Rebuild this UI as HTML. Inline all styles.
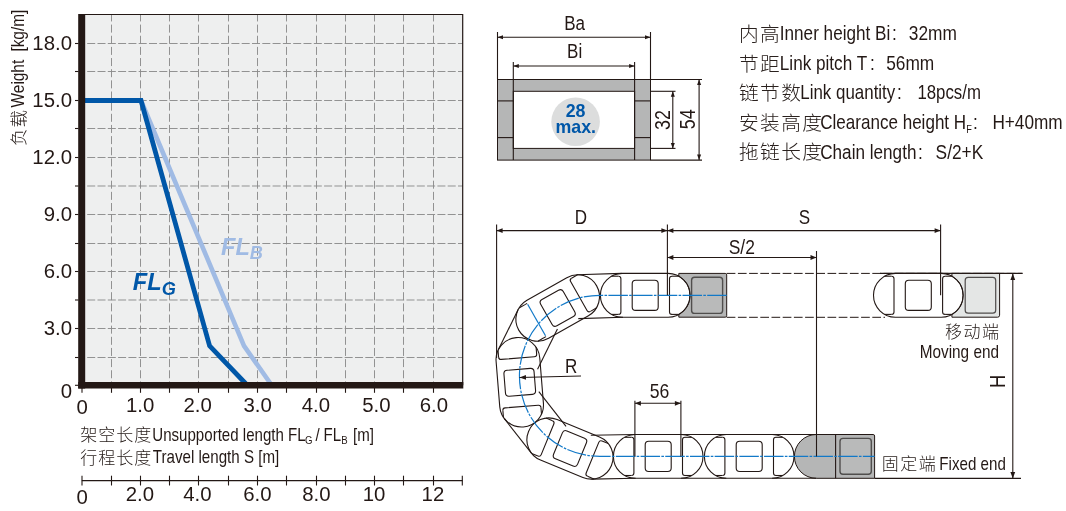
<!DOCTYPE html><html><head><meta charset="utf-8"><title>chart</title><style>html,body{margin:0;padding:0;background:#fff}svg{display:block;will-change:transform}</style></head><body><svg width="1066" height="511" viewBox="0 0 1066 511">
<rect width="1066" height="511" fill="#fff"/>
<rect x="81.8" y="14.5" width="380.9" height="370.7" fill="#eeefef"/>
<path d="M111.5,14.5V385.2M140.5,14.5V385.2M169.5,14.5V385.2M198.5,14.5V385.2M228.5,14.5V385.2M257.5,14.5V385.2M286.5,14.5V385.2M316.5,14.5V385.2M345.5,14.5V385.2M374.5,14.5V385.2M403.5,14.5V385.2M433.5,14.5V385.2" stroke="#8c8c8c" stroke-width="0.95" stroke-dasharray="8 3.15" stroke-dashoffset="1.05" fill="none"/>
<path d="M81.8,357.5H462.7M81.8,328.5H462.7M81.8,300H462.7M81.8,271.5H462.7M81.8,243.5H462.7M81.8,214.5H462.7M81.8,186H462.7M81.8,157.5H462.7M81.8,128.5H462.7M81.8,100.5H462.7M81.8,71.5H462.7M81.8,43.5H462.7" stroke="#8c8c8c" stroke-width="0.95" stroke-dasharray="8 2.3" stroke-dashoffset="4.9" fill="none"/>
<path d="M81.8,14.5H462.7V385.2" stroke="#231815" stroke-width="1.2" fill="none"/>
<polyline points="141.0,100.5 244,345.8 271.5,385" fill="none" stroke="#a0bbe4" stroke-width="4.6" stroke-linejoin="miter"/>
<polyline points="81.8,100.5 141.0,100.5 209.6,345.8 247,385" fill="none" stroke="#0057a8" stroke-width="4.8" stroke-linejoin="miter"/>
<rect x="78.2" y="14.0" width="7" height="374.5" fill="#231815"/>
<rect x="78.2" y="382" width="385.1" height="6.5" fill="#231815"/>
<line x1="82.00" y1="388.00" x2="82.00" y2="392.80" stroke="#231815" stroke-width="1.1" />
<line x1="111.50" y1="388.00" x2="111.50" y2="392.80" stroke="#231815" stroke-width="1.1" />
<line x1="140.50" y1="388.00" x2="140.50" y2="392.80" stroke="#231815" stroke-width="1.1" />
<line x1="169.50" y1="388.00" x2="169.50" y2="392.80" stroke="#231815" stroke-width="1.1" />
<line x1="198.50" y1="388.00" x2="198.50" y2="392.80" stroke="#231815" stroke-width="1.1" />
<line x1="228.50" y1="388.00" x2="228.50" y2="392.80" stroke="#231815" stroke-width="1.1" />
<line x1="257.50" y1="388.00" x2="257.50" y2="392.80" stroke="#231815" stroke-width="1.1" />
<line x1="286.50" y1="388.00" x2="286.50" y2="392.80" stroke="#231815" stroke-width="1.1" />
<line x1="316.50" y1="388.00" x2="316.50" y2="392.80" stroke="#231815" stroke-width="1.1" />
<line x1="345.50" y1="388.00" x2="345.50" y2="392.80" stroke="#231815" stroke-width="1.1" />
<line x1="374.50" y1="388.00" x2="374.50" y2="392.80" stroke="#231815" stroke-width="1.1" />
<line x1="403.50" y1="388.00" x2="403.50" y2="392.80" stroke="#231815" stroke-width="1.1" />
<line x1="433.50" y1="388.00" x2="433.50" y2="392.80" stroke="#231815" stroke-width="1.1" />
<line x1="75.00" y1="357.50" x2="78.50" y2="357.50" stroke="#231815" stroke-width="1.1" />
<line x1="75.00" y1="328.50" x2="78.50" y2="328.50" stroke="#231815" stroke-width="1.1" />
<line x1="75.00" y1="300.00" x2="78.50" y2="300.00" stroke="#231815" stroke-width="1.1" />
<line x1="75.00" y1="271.50" x2="78.50" y2="271.50" stroke="#231815" stroke-width="1.1" />
<line x1="75.00" y1="243.50" x2="78.50" y2="243.50" stroke="#231815" stroke-width="1.1" />
<line x1="75.00" y1="214.50" x2="78.50" y2="214.50" stroke="#231815" stroke-width="1.1" />
<line x1="75.00" y1="186.00" x2="78.50" y2="186.00" stroke="#231815" stroke-width="1.1" />
<line x1="75.00" y1="157.50" x2="78.50" y2="157.50" stroke="#231815" stroke-width="1.1" />
<line x1="75.00" y1="128.50" x2="78.50" y2="128.50" stroke="#231815" stroke-width="1.1" />
<line x1="75.00" y1="100.50" x2="78.50" y2="100.50" stroke="#231815" stroke-width="1.1" />
<line x1="75.00" y1="71.50" x2="78.50" y2="71.50" stroke="#231815" stroke-width="1.1" />
<line x1="75.00" y1="43.50" x2="78.50" y2="43.50" stroke="#231815" stroke-width="1.1" />
<line x1="75.00" y1="385.30" x2="78.50" y2="385.30" stroke="#231815" stroke-width="1.1" />
<text transform="translate(72.00,50.20) scale(0.99,1)" font-size="20.6" text-anchor="end" fill="#231815" font-family="Liberation Sans, sans-serif" >18.0</text>
<text transform="translate(72.00,107.20) scale(0.99,1)" font-size="20.6" text-anchor="end" fill="#231815" font-family="Liberation Sans, sans-serif" >15.0</text>
<text transform="translate(72.00,164.20) scale(0.99,1)" font-size="20.6" text-anchor="end" fill="#231815" font-family="Liberation Sans, sans-serif" >12.0</text>
<text transform="translate(72.00,221.20) scale(0.99,1)" font-size="20.6" text-anchor="end" fill="#231815" font-family="Liberation Sans, sans-serif" >9.0</text>
<text transform="translate(72.00,278.20) scale(0.99,1)" font-size="20.6" text-anchor="end" fill="#231815" font-family="Liberation Sans, sans-serif" >6.0</text>
<text transform="translate(72.00,335.20) scale(0.99,1)" font-size="20.6" text-anchor="end" fill="#231815" font-family="Liberation Sans, sans-serif" >3.0</text>
<text transform="translate(72.00,397.60) scale(0.99,1)" font-size="20.6" text-anchor="end" fill="#231815" font-family="Liberation Sans, sans-serif" >0</text>
<text transform="translate(140.20,412.30) scale(0.99,1)" font-size="20.6" text-anchor="middle" fill="#231815" font-family="Liberation Sans, sans-serif" >1.0</text>
<text transform="translate(197.60,412.30) scale(0.99,1)" font-size="20.6" text-anchor="middle" fill="#231815" font-family="Liberation Sans, sans-serif" >2.0</text>
<text transform="translate(257.60,412.30) scale(0.99,1)" font-size="20.6" text-anchor="middle" fill="#231815" font-family="Liberation Sans, sans-serif" >3.0</text>
<text transform="translate(315.80,412.30) scale(0.99,1)" font-size="20.6" text-anchor="middle" fill="#231815" font-family="Liberation Sans, sans-serif" >4.0</text>
<text transform="translate(376.30,412.30) scale(0.99,1)" font-size="20.6" text-anchor="middle" fill="#231815" font-family="Liberation Sans, sans-serif" >5.0</text>
<text transform="translate(433.80,412.30) scale(0.99,1)" font-size="20.6" text-anchor="middle" fill="#231815" font-family="Liberation Sans, sans-serif" >6.0</text>
<text transform="translate(82.20,414.00) scale(0.99,1)" font-size="20.6" text-anchor="middle" fill="#231815" font-family="Liberation Sans, sans-serif" >0</text>
<text transform="translate(132.8,290.4) scale(1,1)" font-size="23.6" font-weight="bold" font-style="italic" fill="#0057a8" font-family="Liberation Sans, sans-serif">FL<tspan font-size="18.2" dy="5">G</tspan></text>
<text transform="translate(221,254.7) scale(1,1)" font-size="23.6" font-weight="bold" font-style="italic" fill="#a0bbe4" font-family="Liberation Sans, sans-serif">FL<tspan font-size="18.2" dy="4">B</tspan></text>
<text transform="translate(24.8,146) rotate(-90)" font-size="17.5" letter-spacing="1" fill="#2a211e" font-family="Liberation Sans, Noto Sans CJK SC, sans-serif" font-weight="300">负载</text>
<text transform="translate(23.50,107.40) rotate(-90) scale(0.875,1)" font-size="17.6" text-anchor="start" fill="#231815" font-family="Liberation Sans, sans-serif" >Weight</text>
<text transform="translate(23.50,51.60) rotate(-90) scale(0.875,1)" font-size="17.6" text-anchor="start" fill="#231815" font-family="Liberation Sans, sans-serif" >[kg/m]</text>
<text x="80.30" y="441.30" font-size="17" letter-spacing="1.0" fill="#2a211e" font-family="Liberation Sans, Noto Sans CJK SC, sans-serif" font-weight="300">架空长度</text>
<text transform="translate(152.30,440.90) scale(0.838,1)" font-size="18" text-anchor="start" fill="#231815" font-family="Liberation Sans, sans-serif" >Unsupported length FL</text>
<text transform="translate(305.00,443.60) scale(0.838,1)" font-size="11.5" text-anchor="start" fill="#231815" font-family="Liberation Sans, sans-serif" >G</text>
<text transform="translate(315.60,440.90) scale(0.838,1)" font-size="18" text-anchor="start" fill="#231815" font-family="Liberation Sans, sans-serif" >/</text>
<text transform="translate(323.60,440.90) scale(0.838,1)" font-size="18" text-anchor="start" fill="#231815" font-family="Liberation Sans, sans-serif" >FL</text>
<text transform="translate(341.30,443.60) scale(0.838,1)" font-size="11.5" text-anchor="start" fill="#231815" font-family="Liberation Sans, sans-serif" >B</text>
<text transform="translate(353.00,440.90) scale(0.838,1)" font-size="18" text-anchor="start" fill="#231815" font-family="Liberation Sans, sans-serif" >[m]</text>
<text x="80.30" y="464.10" font-size="17" letter-spacing="1.0" fill="#2a211e" font-family="Liberation Sans, Noto Sans CJK SC, sans-serif" font-weight="300">行程长度</text>
<text transform="translate(152.80,463.40) scale(0.841,1)" font-size="18" text-anchor="start" fill="#231815" font-family="Liberation Sans, sans-serif" >Travel length S [m]</text>
<line x1="81.80" y1="480.60" x2="462.70" y2="480.60" stroke="#231815" stroke-width="1.1" />
<line x1="82.00" y1="475.70" x2="82.00" y2="485.50" stroke="#231815" stroke-width="1.1" />
<line x1="111.50" y1="475.70" x2="111.50" y2="485.50" stroke="#231815" stroke-width="1.1" />
<line x1="140.50" y1="475.70" x2="140.50" y2="485.50" stroke="#231815" stroke-width="1.1" />
<line x1="169.50" y1="475.70" x2="169.50" y2="485.50" stroke="#231815" stroke-width="1.1" />
<line x1="198.50" y1="475.70" x2="198.50" y2="485.50" stroke="#231815" stroke-width="1.1" />
<line x1="228.50" y1="475.70" x2="228.50" y2="485.50" stroke="#231815" stroke-width="1.1" />
<line x1="257.50" y1="475.70" x2="257.50" y2="485.50" stroke="#231815" stroke-width="1.1" />
<line x1="286.50" y1="475.70" x2="286.50" y2="485.50" stroke="#231815" stroke-width="1.1" />
<line x1="316.50" y1="475.70" x2="316.50" y2="485.50" stroke="#231815" stroke-width="1.1" />
<line x1="345.50" y1="475.70" x2="345.50" y2="485.50" stroke="#231815" stroke-width="1.1" />
<line x1="374.50" y1="475.70" x2="374.50" y2="485.50" stroke="#231815" stroke-width="1.1" />
<line x1="403.50" y1="475.70" x2="403.50" y2="485.50" stroke="#231815" stroke-width="1.1" />
<line x1="433.50" y1="475.70" x2="433.50" y2="485.50" stroke="#231815" stroke-width="1.1" />
<line x1="462.30" y1="475.70" x2="462.30" y2="485.50" stroke="#231815" stroke-width="1.1" />
<text transform="translate(82.20,503.70) scale(0.99,1)" font-size="20.6" text-anchor="middle" fill="#231815" font-family="Liberation Sans, sans-serif" >0</text>
<text transform="translate(139.90,501.10) scale(0.99,1)" font-size="20.6" text-anchor="middle" fill="#231815" font-family="Liberation Sans, sans-serif" >2.0</text>
<text transform="translate(197.40,501.10) scale(0.99,1)" font-size="20.6" text-anchor="middle" fill="#231815" font-family="Liberation Sans, sans-serif" >4.0</text>
<text transform="translate(257.40,501.10) scale(0.99,1)" font-size="20.6" text-anchor="middle" fill="#231815" font-family="Liberation Sans, sans-serif" >6.0</text>
<text transform="translate(316.40,501.10) scale(0.99,1)" font-size="20.6" text-anchor="middle" fill="#231815" font-family="Liberation Sans, sans-serif" >8.0</text>
<text transform="translate(374.10,501.10) scale(0.99,1)" font-size="20.6" text-anchor="middle" fill="#231815" font-family="Liberation Sans, sans-serif" >10</text>
<text transform="translate(432.90,501.10) scale(0.99,1)" font-size="20.6" text-anchor="middle" fill="#231815" font-family="Liberation Sans, sans-serif" >12</text>
<rect x="497.5" y="79.5" width="153.0" height="80.6" fill="#b5b6b6" stroke="#231815" stroke-width="1"/>
<rect x="513.3" y="91.3" width="121.30000000000007" height="57.10000000000001" fill="#fff" stroke="#231815" stroke-width="1"/>
<line x1="513.30" y1="79.50" x2="513.30" y2="160.10" stroke="#231815" stroke-width="1.1" />
<line x1="634.60" y1="79.50" x2="634.60" y2="160.10" stroke="#231815" stroke-width="1.1" />
<line x1="497.50" y1="100.90" x2="513.30" y2="100.90" stroke="#231815" stroke-width="1.1" />
<line x1="634.60" y1="100.90" x2="650.50" y2="100.90" stroke="#231815" stroke-width="1.1" />
<line x1="497.50" y1="137.60" x2="513.30" y2="137.60" stroke="#231815" stroke-width="1.1" />
<line x1="634.60" y1="137.60" x2="650.50" y2="137.60" stroke="#231815" stroke-width="1.1" />
<circle cx="575.6" cy="121.7" r="24.3" fill="#dcdddd"/>
<text x="575.6" y="116.8" font-size="17.8" font-weight="bold" text-anchor="middle" fill="#0057a8" font-family="Liberation Sans, sans-serif">28</text>
<text x="575.8" y="132.5" font-size="17.8" font-weight="bold" text-anchor="middle" fill="#0057a8" font-family="Liberation Sans, sans-serif">max.</text>
<line x1="497.50" y1="32.00" x2="497.50" y2="79.50" stroke="#231815" stroke-width="1.1" />
<line x1="650.50" y1="32.00" x2="650.50" y2="79.50" stroke="#231815" stroke-width="1.1" />
<line x1="497.50" y1="37.30" x2="650.50" y2="37.30" stroke="#231815" stroke-width="1.1" />
<polygon points="497.50,37.30 503.00,35.30 503.00,39.30" fill="#231815"/>
<polygon points="650.50,37.30 645.00,39.30 645.00,35.30" fill="#231815"/>
<text transform="translate(574.60,30.40) scale(0.844,1)" font-size="20.2" text-anchor="middle" fill="#231815" font-family="Liberation Sans, sans-serif" >Ba</text>
<line x1="513.30" y1="62.00" x2="513.30" y2="79.50" stroke="#231815" stroke-width="1.1" />
<line x1="634.60" y1="62.00" x2="634.60" y2="79.50" stroke="#231815" stroke-width="1.1" />
<line x1="513.30" y1="66.00" x2="634.60" y2="66.00" stroke="#231815" stroke-width="1.1" />
<polygon points="513.30,66.00 518.80,64.00 518.80,68.00" fill="#231815"/>
<polygon points="634.60,66.00 629.10,68.00 629.10,64.00" fill="#231815"/>
<text transform="translate(574.60,57.70) scale(0.844,1)" font-size="20.2" text-anchor="middle" fill="#231815" font-family="Liberation Sans, sans-serif" >Bi</text>
<line x1="650.50" y1="91.30" x2="675.50" y2="91.30" stroke="#231815" stroke-width="1.1" />
<line x1="650.50" y1="148.40" x2="675.50" y2="148.40" stroke="#231815" stroke-width="1.1" />
<line x1="672.80" y1="91.30" x2="672.80" y2="148.40" stroke="#231815" stroke-width="1.1" />
<polygon points="672.80,91.30 674.80,96.80 670.80,96.80" fill="#231815"/>
<polygon points="672.80,148.40 670.80,142.90 674.80,142.90" fill="#231815"/>
<text transform="translate(669.60,120.00) rotate(-90) scale(0.82,1)" font-size="21.8" text-anchor="middle" fill="#231815" font-family="Liberation Sans, sans-serif" >32</text>
<line x1="650.50" y1="79.50" x2="702.00" y2="79.50" stroke="#231815" stroke-width="1.1" />
<line x1="650.50" y1="160.10" x2="702.00" y2="160.10" stroke="#231815" stroke-width="1.1" />
<line x1="699.10" y1="79.50" x2="699.10" y2="160.10" stroke="#231815" stroke-width="1.1" />
<polygon points="699.10,79.50 701.10,85.00 697.10,85.00" fill="#231815"/>
<polygon points="699.10,160.10 697.10,154.60 701.10,154.60" fill="#231815"/>
<text transform="translate(694.80,119.30) rotate(-90) scale(0.82,1)" font-size="21.8" text-anchor="middle" fill="#231815" font-family="Liberation Sans, sans-serif" >54</text>
<text x="739.00" y="41.00" font-size="19.7" letter-spacing="1.4" fill="#2a211e" font-family="Liberation Sans, Noto Sans CJK SC, sans-serif" font-weight="300">内高</text>
<text transform="translate(779.80,40.40) scale(0.84099,1)" font-size="20.4" text-anchor="start" fill="#231815" font-family="Liberation Sans, sans-serif" >Inner height Bi</text>
<text transform="translate(892.00,40.40) scale(0.85,1)" font-size="20.4" text-anchor="start" fill="#231815" font-family="Liberation Sans, sans-serif" >:</text>
<text transform="translate(908.80,40.40) scale(0.84875,1)" font-size="20.4" text-anchor="start" fill="#231815" font-family="Liberation Sans, sans-serif" >32mm</text>
<text x="739.00" y="70.50" font-size="19.7" letter-spacing="1.4" fill="#2a211e" font-family="Liberation Sans, Noto Sans CJK SC, sans-serif" font-weight="300">节距</text>
<text transform="translate(779.80,69.90) scale(0.84099,1)" font-size="20.4" text-anchor="start" fill="#231815" font-family="Liberation Sans, sans-serif" >Link pitch T</text>
<text transform="translate(870.00,69.90) scale(0.85,1)" font-size="20.4" text-anchor="start" fill="#231815" font-family="Liberation Sans, sans-serif" >:</text>
<text transform="translate(886.20,69.90) scale(0.84875,1)" font-size="20.4" text-anchor="start" fill="#231815" font-family="Liberation Sans, sans-serif" >56mm</text>
<text x="739.00" y="99.70" font-size="19.7" letter-spacing="1.4" fill="#2a211e" font-family="Liberation Sans, Noto Sans CJK SC, sans-serif" font-weight="300">链节数</text>
<text transform="translate(800.30,99.10) scale(0.8293499999999999,1)" font-size="20.4" text-anchor="start" fill="#231815" font-family="Liberation Sans, sans-serif" >Link quantity</text>
<text transform="translate(897.00,99.10) scale(0.85,1)" font-size="20.4" text-anchor="start" fill="#231815" font-family="Liberation Sans, sans-serif" >:</text>
<text transform="translate(917.40,99.10) scale(0.8245,1)" font-size="20.4" text-anchor="start" fill="#231815" font-family="Liberation Sans, sans-serif" >18pcs/m</text>
<text x="739.00" y="129.80" font-size="19.7" letter-spacing="1.4" fill="#2a211e" font-family="Liberation Sans, Noto Sans CJK SC, sans-serif" font-weight="300">安装高度</text>
<text transform="translate(820.1999999999999,129.2) scale(0.836,1)" font-size="20.4" fill="#231815" font-family="Liberation Sans, sans-serif">Clearance height H<tspan font-size="11" dy="3.5">F</tspan></text>
<text transform="translate(973.00,129.20) scale(0.85,1)" font-size="20.4" text-anchor="start" fill="#231815" font-family="Liberation Sans, sans-serif" >:</text>
<text transform="translate(992.40,129.20) scale(0.8439,1)" font-size="20.4" text-anchor="start" fill="#231815" font-family="Liberation Sans, sans-serif" >H+40mm</text>
<text x="739.00" y="159.20" font-size="19.7" letter-spacing="1.4" fill="#2a211e" font-family="Liberation Sans, Noto Sans CJK SC, sans-serif" font-weight="300">拖链长度</text>
<text transform="translate(820.20,158.60) scale(0.84099,1)" font-size="20.4" text-anchor="start" fill="#231815" font-family="Liberation Sans, sans-serif" >Chain length</text>
<text transform="translate(918.00,158.60) scale(0.85,1)" font-size="20.4" text-anchor="start" fill="#231815" font-family="Liberation Sans, sans-serif" >:</text>
<text transform="translate(935.60,158.60) scale(0.84875,1)" font-size="20.4" text-anchor="start" fill="#231815" font-family="Liberation Sans, sans-serif" >S/2+K</text>
<path d="M726.7,273.4H1022.5M726.7,317.3H885" stroke="#231815" stroke-width="1" stroke-dasharray="8.7 2.5" fill="none"/>
<path d="M678.81,273.40000000000003H725.2Q726.7,273.40000000000003 726.7,274.90000000000003V315.7Q726.7,317.2 725.2,317.2H678.81V314.40000000000003A21.9,21.9 0 0 0 678.81,276.2Z" fill="#b5b6b6" stroke="#231815" stroke-width="1"/>
<rect x="691.6" y="277.2" width="31" height="36.2" rx="3" fill="#b9baba" stroke="#504e4d" stroke-width="1.4"/>
<path d="M816.3,434.5H873.1Q874.6,434.5 874.6,436.0V478.29999999999995H816.3A21.9,21.9 0 0 1 816.3,434.5Z" fill="#b5b6b6" stroke="#231815" stroke-width="1"/>
<line x1="835.60" y1="434.50" x2="835.60" y2="478.30" stroke="#231815" stroke-width="1.1" />
<rect x="840" y="438.4" width="31.3" height="35.8" rx="3" fill="#b9baba" stroke="#504e4d" stroke-width="1.4"/>
<path d="M951.91,273.40000000000003H999.6V315.2Q999.6,317.2 997.6,317.2H951.91V314.40000000000003A21.9,21.9 0 0 0 951.91,276.2Z" fill="#e4e6e5" stroke="#231815" stroke-width="1"/>
<rect x="965.2" y="277.4" width="30.5" height="35.8" rx="3" fill="#e4e6e5" stroke="#4f4c4b" stroke-width="1.2"/>
<line x1="880.00" y1="273.40" x2="1022.50" y2="273.40" stroke="#231815" stroke-width="1.1" />
<g transform="translate(645.20,295.30) rotate(0)" fill="none" stroke="#231815" stroke-width="1.1">
<path d="M-22.9,-21.9H22.9A21.9,21.9 0 0 1 22.9,21.9H-22.9A21.9,21.9 0 0 1 -22.9,-21.9Z"/>
<rect x="-13" y="-15.1" width="26" height="30.2" rx="3.5"/>
<path d="M33.61,-19.1H26.80" />
<path d="M33.61,19.1H26.80" />
<path d="M26.80,-19.1Q24.3,-19.1 24.3,-16.6V16.6Q24.3,19.1 26.80,19.1"/>
<path d="M-33.61,-19.1H-26.80" />
<path d="M-33.61,19.1H-26.80" />
<path d="M-26.80,-19.1Q-24.3,-19.1 -24.3,-16.6V16.6Q-24.3,19.1 -26.80,19.1"/>
</g>
<g transform="translate(557.70,308.00) rotate(-29.6)" fill="none" stroke="#231815" stroke-width="1.1">
<path d="M-22.9,-21.9H22.9A21.9,21.9 0 0 1 22.9,21.9H-22.9A21.9,21.9 0 0 1 -22.9,-21.9Z"/>
<rect x="-13" y="-15.1" width="26" height="30.2" rx="3.5"/>
<path d="M33.61,-19.1H26.80" />
<path d="M33.61,19.1H26.80" />
<path d="M26.80,-19.1Q24.3,-19.1 24.3,-16.6V16.6Q24.3,19.1 26.80,19.1"/>
<path d="M-33.61,-19.1H-26.80" />
<path d="M-33.61,19.1H-26.80" />
<path d="M-26.80,-19.1H-24.3M-26.80,19.1H-24.3"/>
<path d="M-24.3,-18.1V18.1" stroke="#1279c8" stroke-width="1.2"/>
</g>
<g transform="translate(519.76,382.31) rotate(85.4)" fill="none" stroke="#231815" stroke-width="1.1">
<path d="M-22.9,-21.9H22.9A21.9,21.9 0 0 1 22.9,21.9H-22.9A21.9,21.9 0 0 1 -22.9,-21.9Z"/>
<rect x="-13" y="-15.1" width="26" height="30.2" rx="3.5"/>
<path d="M33.61,-19.1H26.80" />
<path d="M33.61,19.1H26.80" />
<path d="M26.80,-19.1Q24.3,-19.1 24.3,-16.6V16.6Q24.3,19.1 26.80,19.1"/>
<path d="M-33.61,-19.1H-26.80" />
<path d="M-33.61,19.1H-26.80" />
<path d="M-26.80,-19.1Q-24.3,-19.1 -24.3,-16.6V16.6Q-24.3,19.1 -26.80,19.1"/>
</g>
<g transform="translate(570.00,448.50) rotate(22.3)" fill="none" stroke="#231815" stroke-width="1.1">
<path d="M-22.9,-21.9H22.9A21.9,21.9 0 0 1 22.9,21.9H-22.9A21.9,21.9 0 0 1 -22.9,-21.9Z"/>
<rect x="-13" y="-15.1" width="26" height="30.2" rx="3.5"/>
<path d="M33.61,-19.1H26.80" />
<path d="M33.61,19.1H26.80" />
<path d="M26.80,-19.1Q24.3,-19.1 24.3,-16.6V16.6Q24.3,19.1 26.80,19.1"/>
<path d="M-33.61,-19.1H-26.80" />
<path d="M-33.61,19.1H-26.80" />
<path d="M-26.80,-19.1Q-24.3,-19.1 -24.3,-16.6V16.6Q-24.3,19.1 -26.80,19.1"/>
</g>
<g transform="translate(658.20,456.40) rotate(0)" fill="none" stroke="#231815" stroke-width="1.1">
<path d="M-22.9,-21.9H22.9A21.9,21.9 0 0 1 22.9,21.9H-22.9A21.9,21.9 0 0 1 -22.9,-21.9Z"/>
<rect x="-13" y="-15.1" width="26" height="30.2" rx="3.5"/>
<path d="M33.61,-19.1H26.80" />
<path d="M33.61,19.1H26.80" />
<path d="M26.80,-19.1Q24.3,-19.1 24.3,-16.6V16.6Q24.3,19.1 26.80,19.1"/>
<path d="M-33.61,-19.1H-26.80" />
<path d="M-33.61,19.1H-26.80" />
<path d="M-26.80,-19.1Q-24.3,-19.1 -24.3,-16.6V16.6Q-24.3,19.1 -26.80,19.1"/>
</g>
<g transform="translate(749.20,456.40) rotate(0)" fill="none" stroke="#231815" stroke-width="1.1">
<path d="M-22.9,-21.9H22.9A21.9,21.9 0 0 1 22.9,21.9H-22.9A21.9,21.9 0 0 1 -22.9,-21.9Z"/>
<rect x="-13" y="-15.1" width="26" height="30.2" rx="3.5"/>
<path d="M33.61,-19.1H26.80" />
<path d="M33.61,19.1H26.80" />
<path d="M26.80,-19.1Q24.3,-19.1 24.3,-16.6V16.6Q24.3,19.1 26.80,19.1"/>
<path d="M-33.61,-19.1H-26.80" />
<path d="M-33.61,19.1H-26.80" />
<path d="M-26.80,-19.1Q-24.3,-19.1 -24.3,-16.6V16.6Q-24.3,19.1 -26.80,19.1"/>
</g>
<g transform="translate(918.30,295.30) rotate(0)" fill="none" stroke="#231815" stroke-width="1.1">
<path d="M-22.9,-21.9H22.9A21.9,21.9 0 0 1 22.9,21.9H-22.9A21.9,21.9 0 0 1 -22.9,-21.9Z"/>
<rect x="-13" y="-15.1" width="26" height="30.2" rx="3.5"/>
<path d="M33.61,-19.1H26.80" />
<path d="M33.61,19.1H26.80" />
<path d="M26.80,-19.1Q24.3,-19.1 24.3,-16.6V16.6Q24.3,19.1 26.80,19.1"/>
<path d="M-33.61,-19.1H-26.80" />
<path d="M-33.61,19.1H-26.80" />
<path d="M-26.80,-19.1Q-24.3,-19.1 -24.3,-16.6V16.6Q-24.3,19.1 -26.80,19.1"/>
</g>
<line x1="621.62" y1="273.41" x2="576.93" y2="274.80" stroke="#231815" stroke-width="1.1" />
<line x1="622.98" y1="317.19" x2="578.29" y2="318.58" stroke="#231815" stroke-width="1.1" />
<line x1="518.16" y1="309.60" x2="498.29" y2="349.77" stroke="#231815" stroke-width="1.1" />
<line x1="557.42" y1="329.02" x2="537.55" y2="369.19" stroke="#231815" stroke-width="1.1" />
<line x1="504.37" y1="418.65" x2="531.59" y2="453.33" stroke="#231815" stroke-width="1.1" />
<line x1="538.82" y1="391.61" x2="566.04" y2="426.29" stroke="#231815" stroke-width="1.1" />
<line x1="591.58" y1="479.09" x2="635.69" y2="478.30" stroke="#231815" stroke-width="1.1" />
<line x1="590.80" y1="435.29" x2="634.91" y2="434.50" stroke="#231815" stroke-width="1.1" />
<line x1="681.10" y1="478.30" x2="726.30" y2="478.30" stroke="#231815" stroke-width="1.1" />
<line x1="681.10" y1="434.50" x2="726.30" y2="434.50" stroke="#231815" stroke-width="1.1" />
<line x1="772.10" y1="478.30" x2="816.30" y2="478.30" stroke="#231815" stroke-width="1.1" />
<line x1="772.10" y1="434.50" x2="816.30" y2="434.50" stroke="#231815" stroke-width="1.1" />
<path d="M726.7,295.3H600A80.5,80.5 0 0 0 600,456.4H874.6" fill="none" stroke="#1279c8" stroke-width="1.2" stroke-dasharray="19.5 1.3 2.6 1.3"/>
<line x1="496.60" y1="224.50" x2="496.60" y2="358.00" stroke="#231815" stroke-width="1.1" />
<line x1="667.40" y1="224.50" x2="667.40" y2="295.30" stroke="#231815" stroke-width="1.1" />
<line x1="496.60" y1="230.60" x2="940.60" y2="230.60" stroke="#231815" stroke-width="1.1" />
<polygon points="496.60,230.60 502.60,228.20 502.60,233.00" fill="#231815"/>
<polygon points="667.40,230.60 661.40,233.00 661.40,228.20" fill="#231815"/>
<polygon points="667.40,230.60 673.40,228.20 673.40,233.00" fill="#231815"/>
<polygon points="940.60,230.60 934.60,233.00 934.60,228.20" fill="#231815"/>
<line x1="940.60" y1="224.50" x2="940.60" y2="295.30" stroke="#231815" stroke-width="1.1" />
<line x1="667.40" y1="257.50" x2="816.50" y2="257.50" stroke="#231815" stroke-width="1.1" />
<polygon points="667.40,257.50 673.40,255.10 673.40,259.90" fill="#231815"/>
<polygon points="816.50,257.50 810.50,259.90 810.50,255.10" fill="#231815"/>
<line x1="816.50" y1="251.00" x2="816.50" y2="456.40" stroke="#231815" stroke-width="1.1" />
<text transform="translate(581.00,223.60) scale(0.844,1)" font-size="20.2" text-anchor="middle" fill="#231815" font-family="Liberation Sans, sans-serif" >D</text>
<text transform="translate(804.50,223.90) scale(0.844,1)" font-size="20.2" text-anchor="middle" fill="#231815" font-family="Liberation Sans, sans-serif" >S</text>
<text transform="translate(741.80,253.90) scale(0.864,1)" font-size="20.2" text-anchor="middle" fill="#231815" font-family="Liberation Sans, sans-serif" >S/2</text>
<line x1="634.90" y1="400.70" x2="634.90" y2="456.40" stroke="#231815" stroke-width="1.1" />
<line x1="680.90" y1="400.70" x2="680.90" y2="456.40" stroke="#231815" stroke-width="1.1" />
<line x1="634.90" y1="403.30" x2="680.90" y2="403.30" stroke="#231815" stroke-width="1.1" />
<polygon points="634.90,403.30 640.90,400.90 640.90,405.70" fill="#231815"/>
<polygon points="680.90,403.30 674.90,405.70 674.90,400.90" fill="#231815"/>
<text transform="translate(659.50,397.70) scale(0.873,1)" font-size="20.2" text-anchor="middle" fill="#231815" font-family="Liberation Sans, sans-serif" >56</text>
<line x1="581.00" y1="376.00" x2="519.50" y2="377.50" stroke="#231815" stroke-width="1.1" />
<polygon points="519.50,377.50 525.94,374.94 526.06,379.74" fill="#231815"/>
<text transform="translate(571.20,373.20) scale(0.844,1)" font-size="20.2" text-anchor="middle" fill="#231815" font-family="Liberation Sans, sans-serif" >R</text>
<line x1="1012.80" y1="273.40" x2="1012.80" y2="478.40" stroke="#231815" stroke-width="1.1" />
<polygon points="1012.80,273.40 1015.20,279.90 1010.40,279.90" fill="#231815"/>
<polygon points="1012.80,478.40 1010.40,471.90 1015.20,471.90" fill="#231815"/>
<line x1="874.60" y1="478.40" x2="1021.00" y2="478.40" stroke="#231815" stroke-width="1.1" />
<text transform="translate(1004.50,381.40) rotate(-90) scale(0.85,1)" font-size="21.6" text-anchor="middle" fill="#231815" font-family="Liberation Sans, sans-serif" >H</text>
<text x="945.00" y="338.30" font-size="17" letter-spacing="1.5" fill="#2a211e" font-family="Liberation Sans, Noto Sans CJK SC, sans-serif" font-weight="300">移动端</text>
<text transform="translate(999.00,358.10) scale(0.862,1)" font-size="17.8" text-anchor="end" fill="#231815" font-family="Liberation Sans, sans-serif" >Moving end</text>
<text x="881.80" y="470.40" font-size="17" letter-spacing="1.5" fill="#2a211e" font-family="Liberation Sans, Noto Sans CJK SC, sans-serif" font-weight="300">固定端</text>
<text transform="translate(939.30,470.20) scale(0.852,1)" font-size="17.8" text-anchor="start" fill="#231815" font-family="Liberation Sans, sans-serif" >Fixed end</text>
</svg></body></html>
